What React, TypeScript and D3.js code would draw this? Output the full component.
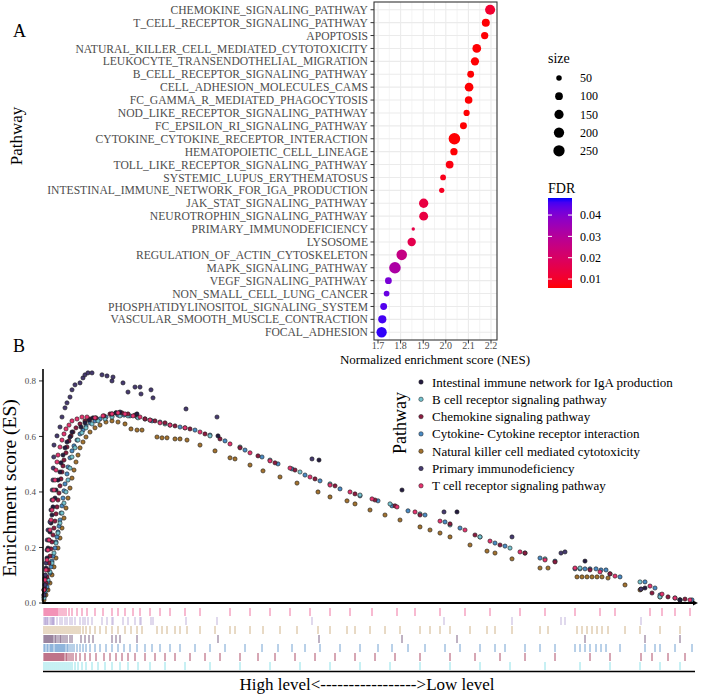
import React from "react";
import * as d3 from "d3";

// ---------- Panel A data ----------
const pathways = [
  "CHEMOKINE_SIGNALING_PATHWAY",
  "T_CELL_RECEPTOR_SIGNALING_PATHWAY",
  "APOPTOSIS",
  "NATURAL_KILLER_CELL_MEDIATED_CYTOTOXICITY",
  "LEUKOCYTE_TRANSENDOTHELIAL_MIGRATION",
  "B_CELL_RECEPTOR_SIGNALING_PATHWAY",
  "CELL_ADHESION_MOLECULES_CAMS",
  "FC_GAMMA_R_MEDIATED_PHAGOCYTOSIS",
  "NOD_LIKE_RECEPTOR_SIGNALING_PATHWAY",
  "FC_EPSILON_RI_SIGNALING_PATHWAY",
  "CYTOKINE_CYTOKINE_RECEPTOR_INTERACTION",
  "HEMATOPOIETIC_CELL_LINEAGE",
  "TOLL_LIKE_RECEPTOR_SIGNALING_PATHWAY",
  "SYSTEMIC_LUPUS_ERYTHEMATOSUS",
  "INTESTINAL_IMMUNE_NETWORK_FOR_IGA_PRODUCTION",
  "JAK_STAT_SIGNALING_PATHWAY",
  "NEUROTROPHIN_SIGNALING_PATHWAY",
  "PRIMARY_IMMUNODEFICIENCY",
  "LYSOSOME",
  "REGULATION_OF_ACTIN_CYTOSKELETON",
  "MAPK_SIGNALING_PATHWAY",
  "VEGF_SIGNALING_PATHWAY",
  "NON_SMALL_CELL_LUNG_CANCER",
  "PHOSPHATIDYLINOSITOL_SIGNALING_SYSTEM",
  "VASCULAR_SMOOTH_MUSCLE_CONTRACTION",
  "FOCAL_ADHESION",
];
const nes = [
  2.196, 2.177, 2.172, 2.137, 2.129, 2.11, 2.103, 2.101, 2.092, 2.078, 2.038,
  2.036, 2.017, 1.988, 1.982, 1.902, 1.902, 1.856, 1.849, 1.805, 1.775, 1.746,
  1.738, 1.725, 1.719, 1.716,
];
const geneSetSize = [
  189, 108, 87, 133, 116, 75, 132, 96, 62, 79, 265, 87, 101, 55, 47, 155, 140,
  35, 121, 212, 267, 75, 54, 76, 113, 199,
];
const fdr = [
  0.011, 0.006, 0.006, 0.006, 0.006, 0.006, 0.006, 0.006, 0.006, 0.006, 0.006,
  0.006, 0.007, 0.008, 0.009, 0.014, 0.014, 0.015, 0.016, 0.026, 0.032, 0.041,
  0.043, 0.045, 0.046, 0.047,
];
const nesTicks = [1.7, 1.8, 1.9, 2.0, 2.1, 2.2];
const nesMinorTicks = [1.75, 1.85, 1.95, 2.05, 2.15];
const sizeBreaks = [50, 100, 150, 200, 250];
const fdrBreaks = [0.01, 0.02, 0.03, 0.04];
const fdrLimits = [0.0058, 0.048];

// ---------- Panel B data ----------
const seriesNames = [
  "Intestinal immune network for IgA production",
  "B cell receptor signaling pathway",
  "Chemokine signaling pathway",
  "Cytokine- Cytokine receptor interaction",
  "Natural killer cell mediated cytotoxicity",
  "Primary immunodeficiency",
  "T cell receptor signaling pathway",
];
const totalGenes = 13080;
const esTicks = [0, 0.2, 0.4, 0.6, 0.8];

// [rank, running enrichment score at hit]
const esIntestinal: [number, number][] = [
  [20, 0.047], [40, 0.09], [60, 0.126], [80, 0.162], [100, 0.198], [120, 0.227],
  [140, 0.256], [160, 0.288], [180, 0.317], [200, 0.346], [240, 0.378],
  [260, 0.407], [300, 0.443], [340, 0.472], [360, 0.505], [400, 0.533],
  [440, 0.559], [480, 0.58], [540, 0.598], [580, 0.616], [760, 0.634],
  [840, 0.649], [920, 0.659], [1000, 0.667], [1380, 0.681], [1460, 0.685],
  [1540, 0.688], [1880, 0.681], [3500, 0.602], [5520, 0.515], [7180, 0.407],
  [8280, 0.328], [10840, 0.151], [12040, 0.054], [12740, 0.011],
];
const esBcell: [number, number][] = [
  [20, 0.018], [60, 0.047], [100, 0.083], [140, 0.112], [180, 0.144],
  [220, 0.18], [260, 0.216], [300, 0.252], [340, 0.288], [380, 0.324],
  [420, 0.36], [460, 0.4], [500, 0.443], [540, 0.486], [580, 0.526],
  [640, 0.559], [700, 0.587], [780, 0.613], [860, 0.631], [980, 0.645],
  [1100, 0.656], [1240, 0.663], [1380, 0.67], [1540, 0.674], [1700, 0.674],
  [1900, 0.667], [2140, 0.659], [2440, 0.645], [2840, 0.631], [3340, 0.602],
  [3940, 0.562], [4540, 0.515], [5140, 0.472], [5740, 0.429], [6340, 0.389],
  [6940, 0.357], [7540, 0.321], [8140, 0.281], [8740, 0.238], [9340, 0.198],
  [10040, 0.159], [10740, 0.126], [11340, 0.105], [11940, 0.076],
  [12340, 0.022], [12740, 0.011],
];
const esChemokine: [number, number][] = [
  [20, 0.029], [40, 0.05], [60, 0.072], [80, 0.094], [100, 0.119],
  [120, 0.144], [140, 0.169], [160, 0.195], [180, 0.22], [200, 0.245],
  [220, 0.27], [240, 0.295], [260, 0.321], [280, 0.346], [300, 0.371],
  [320, 0.396], [340, 0.422], [360, 0.447], [380, 0.472], [400, 0.494],
  [420, 0.515], [460, 0.541], [480, 0.562], [520, 0.584], [560, 0.602],
  [600, 0.616], [660, 0.631], [740, 0.645], [840, 0.656], [940, 0.663],
  [1060, 0.667], [1220, 0.674], [1340, 0.681], [1460, 0.685], [1580, 0.685],
  [1700, 0.681], [1840, 0.677], [2040, 0.663], [2240, 0.656], [2440, 0.649],
  [2640, 0.638], [2940, 0.627], [3240, 0.609], [3540, 0.591], [3940, 0.559],
  [4300, 0.53], [4640, 0.505], [5040, 0.479], [5440, 0.447], [5840, 0.422],
  [6240, 0.393], [6640, 0.371], [7040, 0.35], [7540, 0.317], [8140, 0.285],
  [8640, 0.245], [9140, 0.209], [9640, 0.18], [10240, 0.148], [10940, 0.119],
  [11340, 0.105], [11960, 0.05], [12180, 0.036], [12500, 0.022],
  [12840, 0.014],
];
const esCytokine: [number, number][] = [
  [20, 0.022], [40, 0.04], [80, 0.058], [100, 0.076], [140, 0.108],
  [160, 0.13], [180, 0.151], [200, 0.169], [240, 0.198], [260, 0.22],
  [280, 0.238], [300, 0.256], [320, 0.277], [340, 0.299], [360, 0.324],
  [380, 0.35], [400, 0.378], [420, 0.404], [440, 0.429], [480, 0.465],
  [500, 0.49], [540, 0.523], [580, 0.548], [620, 0.566], [680, 0.587],
  [740, 0.609], [800, 0.623], [860, 0.638], [940, 0.649], [1040, 0.656],
  [1140, 0.663], [1260, 0.67], [1380, 0.674], [1500, 0.677], [1620, 0.677],
  [1740, 0.674], [1880, 0.67], [2040, 0.663], [2180, 0.656], [2340, 0.652],
  [2540, 0.641], [2740, 0.634], [3040, 0.623], [3340, 0.605], [3640, 0.584],
  [4040, 0.551], [4380, 0.526], [4700, 0.501], [4980, 0.483], [5240, 0.461],
  [5540, 0.44], [5940, 0.411], [6340, 0.386], [6700, 0.368], [6980, 0.35],
  [7300, 0.332], [7640, 0.317], [8040, 0.292], [8340, 0.27], [8740, 0.238],
  [9040, 0.216], [9240, 0.205], [9640, 0.18], [9940, 0.162], [10240, 0.151],
  [10640, 0.123], [10740, 0.123], [10840, 0.123], [10940, 0.123],
  [11060, 0.123], [11160, 0.119], [11260, 0.119], [11540, 0.094],
  [12040, 0.076], [12240, 0.054], [12340, 0.029], [12640, 0.018],
  [12980, 0.011],
];
const esNK: [number, number][] = [
  [20, 0.011], [60, 0.029], [100, 0.047], [140, 0.072], [180, 0.101],
  [220, 0.13], [260, 0.162], [300, 0.198], [340, 0.234], [380, 0.27],
  [420, 0.306], [460, 0.342], [500, 0.378], [540, 0.414], [580, 0.45],
  [620, 0.479], [660, 0.508], [700, 0.533], [740, 0.559], [800, 0.58],
  [860, 0.598], [940, 0.616], [1040, 0.631], [1140, 0.641], [1260, 0.652],
  [1380, 0.656], [1500, 0.652], [1640, 0.645], [1760, 0.627], [1880, 0.623],
  [1980, 0.623], [2280, 0.598], [2380, 0.595], [2480, 0.595], [2640, 0.591],
  [2740, 0.591], [2880, 0.587], [3140, 0.569], [3440, 0.548], [3740, 0.523],
  [3840, 0.519], [4140, 0.497], [4400, 0.476], [4740, 0.454], [5080, 0.432],
  [5500, 0.4], [5740, 0.382], [6080, 0.368], [6240, 0.357], [6540, 0.335],
  [6840, 0.317], [7140, 0.299], [7540, 0.274], [7740, 0.263], [7940, 0.252],
  [8140, 0.238], [8540, 0.209], [8880, 0.187], [9040, 0.18], [9380, 0.159],
  [9940, 0.126], [10100, 0.126], [10680, 0.094], [10780, 0.094],
  [10880, 0.094], [10980, 0.094], [11080, 0.094], [11180, 0.094],
  [11300, 0.09], [11640, 0.065], [11940, 0.047], [12340, 0.022],
  [12740, 0.011],
];
const esPrimary: [number, number][] = [
  [20, 0.029], [40, 0.065], [45, 0.101], [60, 0.144], [80, 0.191], [85, 0.227],
  [100, 0.263], [140, 0.292], [160, 0.335], [180, 0.371], [185, 0.407],
  [200, 0.443], [205, 0.486], [215, 0.526], [220, 0.569], [280, 0.602],
  [340, 0.634], [380, 0.67], [440, 0.703], [480, 0.721], [540, 0.742],
  [580, 0.768], [640, 0.786], [740, 0.793], [800, 0.811], [840, 0.822],
  [900, 0.829], [980, 0.829], [1180, 0.822], [1280, 0.818], [1380, 0.8],
  [1400, 0.814], [1600, 0.793], [1700, 0.76], [1840, 0.778], [1940, 0.778],
  [1960, 0.753], [2160, 0.768], [2200, 0.739], [2860, 0.699], [3480, 0.67],
  [5380, 0.519], [8020, 0.328], [9380, 0.238], [10360, 0.18], [10440, 0.184],
  [11960, 0.05],
];
const esTcell: [number, number][] = [
  [20, 0.047], [40, 0.083], [60, 0.119], [80, 0.155], [100, 0.191],
  [120, 0.227], [140, 0.263], [160, 0.299], [180, 0.335], [200, 0.371],
  [220, 0.407], [240, 0.443], [260, 0.479], [280, 0.508], [300, 0.533],
  [340, 0.562], [380, 0.587], [420, 0.609], [460, 0.627], [520, 0.641],
  [580, 0.656], [680, 0.663], [780, 0.67], [880, 0.67], [1040, 0.667],
  [1200, 0.674], [1380, 0.681], [1500, 0.685], [1640, 0.681], [1800, 0.674],
  [1940, 0.67], [2140, 0.659], [2340, 0.649], [2540, 0.641], [2840, 0.631],
  [3140, 0.616], [3740, 0.573], [4140, 0.541], [4540, 0.512], [4940, 0.486],
  [5340, 0.454], [5740, 0.425], [6140, 0.4], [6580, 0.375], [7080, 0.346],
  [7440, 0.328], [7940, 0.295], [8440, 0.263], [8940, 0.223], [9540, 0.184],
  [10040, 0.155], [10640, 0.126], [11140, 0.112], [11440, 0.097],
  [12140, 0.061], [12380, 0.032], [12640, 0.018], [12940, 0.011],
];

const seriesData = [esIntestinal, esBcell, esChemokine, esCytokine, esNK, esPrimary, esTcell];
const seriesColors = ["#241b40", "#74c3cf", "#8c1c40", "#4a8bc4", "#a3722e", "#463a70", "#e6336f"];
const rugColors = ["#6a4a72", "#7fdde6", "#a23050", "#5a92cc", "#c9a877", "#b7a7d6", "#ee5f95"];
const rugRowOrder = [6, 5, 4, 0, 3, 2, 1];
const drawOrder = [4, 3, 1, 2, 0, 5, 6];

const FONT = "'Liberation Serif','Times New Roman',serif";

export default function App() {
  // Panel A scales
  const ax = d3.scaleLinear().domain([1.6823, 2.2265]).range([374, 497]);
  const ay = d3.scalePoint<string>().domain(pathways).range([2, 340]).padding(0.6);
  const sMin = d3.min(geneSetSize) as number;
  const sMax = d3.max(geneSetSize) as number;
  const rLin = d3.scaleLinear().domain([0, 1]).range([1.7, 5.8]);
  const rSize = (v: number) => rLin(Math.sqrt(Math.max(0, (v - sMin) / (sMax - sMin))));
  const fdrColor = d3
    .scaleLinear<string>()
    .domain(fdrLimits)
    .range(["red", "blue"])
    .interpolate(d3.interpolateLab);
  const cbY = d3.scaleLinear().domain(fdrLimits).range([288, 198]);
  const gradStops = d3.range(0, 1.0001, 0.05);

  // Panel B scales
  const bx = d3.scaleLinear().domain([0, totalGenes]).range([43, 697]);
  const by = d3.scaleLinear().domain([0, 0.843]).range([603, 369]);
  const rugTop = 608;
  const rugH = 9;

  const panelTop = 2;
  const panelBottom = 340;

  return (
    <svg
      width={701}
      height={695}
      style={{ position: "absolute", left: 0, top: 0, background: "#fff" }}
      fontFamily={FONT}
    >
      <defs>
        <linearGradient id="fdrGrad" x1="0" y1="1" x2="0" y2="0">
          {gradStops.map((t, i) => (
            <stop
              key={i}
              offset={`${t * 100}%`}
              stopColor={fdrColor(fdrLimits[0] + t * (fdrLimits[1] - fdrLimits[0]))}
            />
          ))}
        </linearGradient>
      </defs>

      {/* ================= PANEL A ================= */}
      <text x={13} y={37} fontSize={18} fill="#000">A</text>
      <text
        transform={`translate(22,136) rotate(-90)`}
        textAnchor="middle"
        fontSize={17}
        fill="#000"
      >
        Pathway
      </text>
      <rect x={374} y={panelTop} width={123} height={panelBottom - panelTop} fill="#fff" />
      {nesMinorTicks.map((t) => (
        <line key={"mn" + t} x1={ax(t)} x2={ax(t)} y1={panelTop} y2={panelBottom} stroke="#ebebeb" strokeWidth={0.6} />
      ))}
      {nesTicks.map((t) => (
        <line key={"mj" + t} x1={ax(t)} x2={ax(t)} y1={panelTop} y2={panelBottom} stroke="#ebebeb" strokeWidth={1.1} />
      ))}
      {pathways.map((p) => (
        <line key={"hg" + p} x1={374} x2={497} y1={ay(p)} y2={ay(p)} stroke="#ebebeb" strokeWidth={1.1} />
      ))}
      {pathways.map((p, i) => (
        <circle key={"pt" + p} cx={ax(nes[i])} cy={ay(p)} r={rSize(geneSetSize[i])} fill={fdrColor(fdr[i])} />
      ))}
      <rect x={374} y={panelTop} width={123} height={panelBottom - panelTop} fill="none" stroke="#333" strokeWidth={1.1} />
      {pathways.map((p) => (
        <g key={"yl" + p}>
          <line x1={370.5} x2={374} y1={ay(p)} y2={ay(p)} stroke="#333" strokeWidth={1} />
          <text x={368} y={ay(p)} dy="0.35em" textAnchor="end" fontSize={11.6} fill="#4d4d4d">
            {p}
          </text>
        </g>
      ))}
      {nesTicks.map((t) => (
        <g key={"xt" + t}>
          <line x1={ax(t)} x2={ax(t)} y1={panelBottom} y2={panelBottom + 3.5} stroke="#333" strokeWidth={1} />
          <text x={ax(t)} y={349} textAnchor="middle" fontSize={10} fill="#4d4d4d">
            {d3.format(".1f")(t)}
          </text>
        </g>
      ))}
      <text x={435} y={364} textAnchor="middle" fontSize={13} fill="#000">
        Normalized enrichment score (NES)
      </text>

      {/* size legend */}
      <text x={548} y={63} fontSize={14} fill="#000">size</text>
      {sizeBreaks.map((s, i) => (
        <g key={"sz" + s}>
          <circle cx={559} cy={78 + i * 18.2} r={rSize(s)} fill="#000" />
          <text x={580} y={78 + i * 18.2} dy="0.35em" fontSize={12} fill="#000">{s}</text>
        </g>
      ))}

      {/* FDR legend */}
      <text x={548} y={193} fontSize={14} fill="#000">FDR</text>
      <rect x={548} y={198} width={24} height={90} fill="url(#fdrGrad)" />
      {fdrBreaks.map((b) => (
        <g key={"fb" + b}>
          <line x1={548} x2={552} y1={cbY(b)} y2={cbY(b)} stroke="#fff" strokeWidth={1} />
          <line x1={568} x2={572} y1={cbY(b)} y2={cbY(b)} stroke="#fff" strokeWidth={1} />
          <text x={580} y={cbY(b)} dy="0.35em" fontSize={12} fill="#000">
            {d3.format(".2f")(b)}
          </text>
        </g>
      ))}

      {/* ================= PANEL B ================= */}
      <text x={13} y={352} fontSize={18} fill="#000">B</text>
      <text
        transform={`translate(16,488) rotate(-90)`}
        textAnchor="middle"
        fontSize={19.5}
        fill="#000"
      >
        Enrichment score (ES)
      </text>
      {esTicks.map((t) => (
        <g key={"et" + t}>
          <line x1={39} x2={43} y1={by(t)} y2={by(t)} stroke="#333" strokeWidth={1} />
          <text x={36} y={by(t)} dy="0.35em" textAnchor="end" fontSize={9} fill="#4d4d4d">
            {d3.format(".1f")(t)}
          </text>
        </g>
      ))}

      {drawOrder.map((si) => (
        <g key={"s" + si}>
          {seriesData[si].map(([r, e], j) => (
            <circle
              key={j}
              cx={bx(r)}
              cy={by(e)}
              r={2.1}
              fill={seriesColors[si]}
              stroke="#1a1a1a"
              strokeWidth={0.6}
            />
          ))}
        </g>
      ))}

      <line x1={43} x2={43} y1={369} y2={604} stroke="#000" strokeWidth={1.6} />
      <line x1={43} x2={696} y1={603} y2={603} stroke="#000" strokeWidth={2} />
      <path d="M693,600.5 L698,603 L693,605.5 Z" fill="#000" />

      {/* rug */}
      {rugRowOrder.map((si, row) => (
        <g key={"rug" + si}>
          {seriesData[si].map(([r], j) => (
            <line
              key={j}
              x1={bx(r)}
              x2={bx(r)}
              y1={rugTop + row * rugH}
              y2={rugTop + row * rugH + rugH - 1}
              stroke={rugColors[si]}
              strokeWidth={1}
              opacity={0.85}
            />
          ))}
        </g>
      ))}
      <line x1={43} x2={695} y1={671.5} y2={671.5} stroke="#000" strokeWidth={1.6} />

      {/* legend B */}
      <text
        transform={`translate(406,423) rotate(-90)`}
        textAnchor="middle"
        fontSize={18}
        fill="#000"
      >
        Pathway
      </text>
      {seriesNames.map((n, i) => (
        <g key={"lg" + i}>
          <circle cx={421} cy={382 + i * 17.3} r={2.2} fill={seriesColors[i]} stroke="#1a1a1a" strokeWidth={0.5} />
          <text x={432} y={382 + i * 17.3} dy="0.35em" fontSize={13} fill="#000">{n}</text>
        </g>
      ))}

      <text x={367} y={690} textAnchor="middle" fontSize={17} fill="#000">
        High level{"<-----------------"}{">"}Low level
      </text>
    </svg>
  );
}
